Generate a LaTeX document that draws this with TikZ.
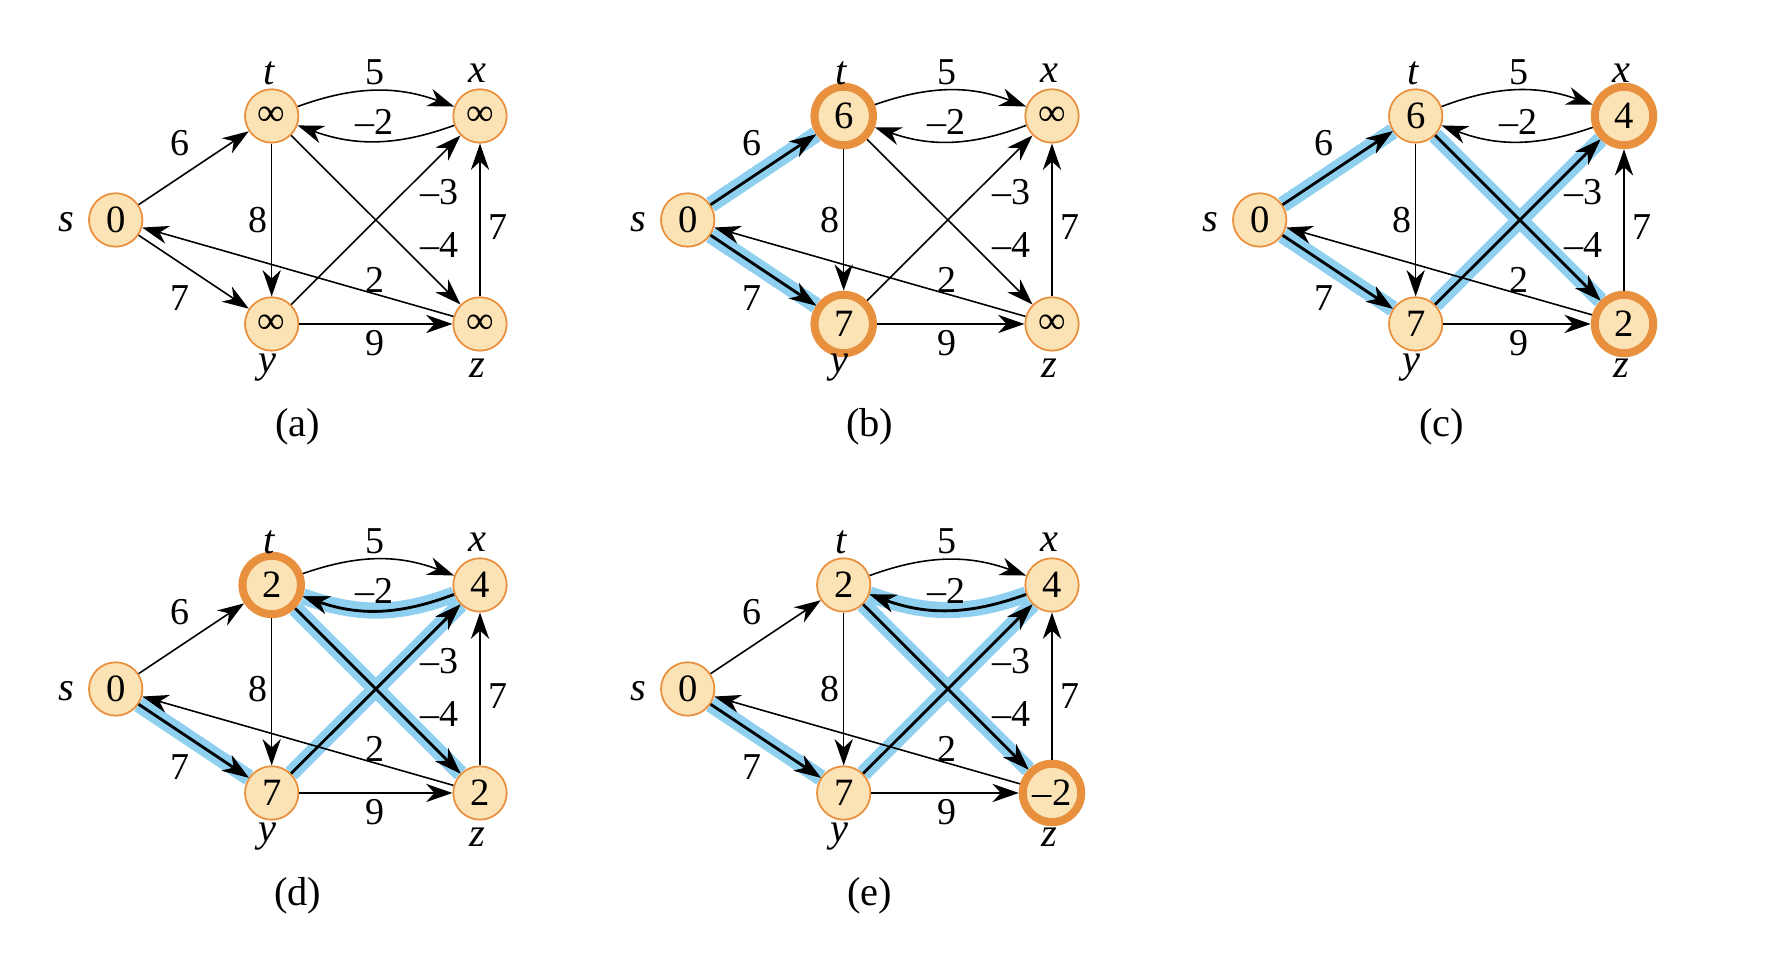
\documentclass[tikz,border=0pt]{standalone}
\usepackage{fontspec}
\setmainfont{Liberation Serif}
\usepackage{tikz}
\usetikzlibrary{arrows.meta,backgrounds}
\definecolor{peach}{HTML}{FBE3B6}
\definecolor{rim}{HTML}{E8903E}
\definecolor{treeblue}{HTML}{8FD0F1}

\tikzset{
  spot s/.style={at={(0,0)}},
  spot t/.style={at={(1.56,1.04)}},
  spot x/.style={at={(3.643,1.04)}},
  spot y/.style={at={(1.56,-1.04)}},
  spot z/.style={at={(3.643,-1.04)}},
  vtx/.style={circle,draw=rim,line width=0.5pt,fill=peach,minimum size=0.534cm,inner sep=0pt,
              font=\fontsize{11}{13}\selectfont},
  hot/.style={vtx,line width=2.3pt,minimum size=0.584cm},
  wire/.style={draw=black,line width=0.45pt,-{Stealth[length=7.5pt,width=5.2pt,inset=2.4pt]}},
  sptree/.style={draw=treeblue,line width=4.6pt},
  spblack/.style={wire,line width=0.8pt},
  wt/.style={inner sep=0pt,font=\fontsize{10.8}{13}\selectfont},
  vname/.style={inner sep=0pt,font=\fontsize{11.5}{13}\selectfont\itshape},
  panelcap/.style={inner sep=0pt,font=\fontsize{11.5}{13}\selectfont}
}

% #1 panel letter, #2 shift, #3 vertices name/value/style, #4 shortest-path edges
\newcommand{\bfpanel}[4]{%
  \begin{scope}[shift={#2}]
    \foreach \v/\d/\st in {#3}
      \node[\st,spot \v] (#1-\v) {\d};
    \foreach \v/\lx/\ly in {s/-0.49/-0.02,t/1.53/1.47,x/3.62/1.47,y/1.52/-1.48,z/3.62/-1.48}
      \node[vname] (#1-\v-name) at (\lx,\ly) {\v};
    \begin{pgfonlayer}{background}
      \foreach \a/\b/\bnd in {#4}
        \path[sptree] (#1-\a) to[bend left=\bnd] (#1-\b);
      \foreach \a/\b/\bnd in {#4}
        \path[spblack] (#1-\a) to[bend left=\bnd] (#1-\b);
    \end{pgfonlayer}
    \foreach \a/\b/\bnd/\w/\lx/\ly in {s/t/0/6/0.64/0.77, s/y/0/7/0.64/-0.78, t/y/0/8/1.42/0,
        t/x/20/5/2.59/1.48, x/t/20/\textendash2/2.59/0.98, t/z/0/\textendash4/3.24/-0.25,
        y/x/0/\textendash3/3.24/0.28, y/z/0/9/2.59/-1.23, z/x/0/7/3.82/-0.07, z/s/0/2/2.59/-0.60}
    {
      \path[wire] (#1-\a) to[bend left=\bnd] (#1-\b);
      \node[wt] (#1-\a\b-w) at (\lx,\ly) {\w};
    }
    \node[panelcap] (#1-cap) at (1.82,-2.07) {(#1)};
  \end{scope}
}

\begin{document}
\begin{tikzpicture}
  \useasboundingbox (0,0) rectangle (17.8,9.74);
  \bfpanel{a}{(1.157,7.54)}{s/0/vtx, t/∞/vtx, x/∞/vtx, y/∞/vtx, z/∞/vtx}{}
  \bfpanel{b}{(6.877,7.54)}{s/0/vtx, t/6/hot, x/∞/vtx, y/7/hot, z/∞/vtx}{s/t/0, s/y/0}
  \bfpanel{c}{(12.597,7.54)}{s/0/vtx, t/6/vtx, x/4/hot, y/7/vtx, z/2/hot}{s/t/0, s/y/0, y/x/0, t/z/0}
  \bfpanel{d}{(1.157,2.85)}{s/0/vtx, t/2/hot, x/4/vtx, y/7/vtx, z/2/vtx}{s/y/0, y/x/0, t/z/0, x/t/20}
  \bfpanel{e}{(6.877,2.85)}{s/0/vtx, t/2/vtx, x/4/vtx, y/7/vtx, z/\textendash2/hot}{s/y/0, y/x/0, t/z/0, x/t/20}
\end{tikzpicture}
\end{document}
